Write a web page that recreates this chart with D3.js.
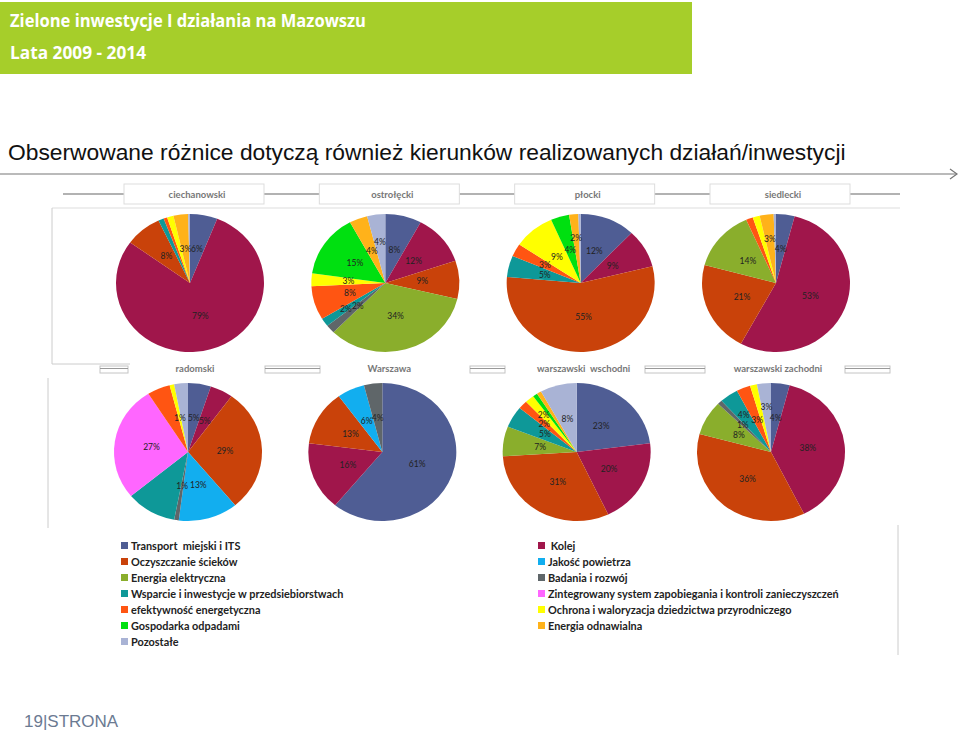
<!DOCTYPE html>
<html>
<head>
<meta charset="utf-8">
<script src="https://cdn.jsdelivr.net/npm/d3@7"></script>
<style>
  body { margin: 0; background: #fff; }
  svg { display: block; }
  text { white-space: pre; }
</style>
</head>
<body>
<svg id="chart" width="960" height="730"></svg>
<script>
// kategorie inwestycji (kolejność jak w legendzie Excela)
const categories = [
  "Transport  miejski i ITS",
  " Kolej",
  "Oczyszczanie ścieków",
  "Jakość powietrza",
  "Energia elektryczna",
  "Badania i rozwój",
  "Wsparcie i inwestycje w przedsiebiorstwach",
  "Zintegrowany system zapobiegania i kontroli zanieczyszczeń",
  "efektywność energetyczna",
  "Ochrona i waloryzacja dziedzictwa przyrodniczego",
  "Gospodarka odpadami",
  "Energia odnawialna",
  "Pozostałe"
];
const colors = [
  "#4f5d94", "#a0164b", "#c9420a", "#12aeef", "#8aae2c", "#5f6669", "#0e9898",
  "#ff66ff", "#ff5512", "#ffff00", "#00e010", "#ffb21a", "#a9b3d5"
];

const topRow = ["ciechanowski", "ostrołęcki", "płocki", "siedlecki"];
const bottomRow = ["radomski", "Warszawa", "warszawski  wschodni", "warszawski zachodni"];

// udziały % wg kategorii
const ciechanowski = [6, 79, 8, 0, 0, 0, 1.2, 0, 0.8, 1.4, 0, 3.2, 0.4];
const ostroleckiVals = [8, 12, 9, 0, 34, 2, 2, 0, 8, 3, 15, 4, 4];
const plocki = [12, 9, 55, 0, 0, 0, 5, 0, 3, 9, 4, 2, 0.5];
const siedlecki = [4, 53, 21, 0, 14, 0, 0, 0, 1.5, 1.5, 0, 3, 0.5];
const radomski = [5, 5, 29, 13, 0, 1, 11, 27, 5, 1, 0, 0, 3];
const warszawa = [61, 16, 13, 6, 0, 4, 0, 0, 0, 0, 0, 0, 0];
const wschodni = [23, 20, 31, 0, 7, 0, 5, 0, 2, 2, 1, 1, 8];
const zachodni = [4, 38, 36, 0, 8, 1, 4, 0, 3, 1.5, 0, 0, 3];

// kategorie bez etykiety na wykresie
const unlabeledCiech = [6, 8, 9, 12];
const unlabeledPlocki = [12];
const unlabeledSiedl = [8, 9, 12];
const unlabeledRadom = [6, 8, 12];
const unlabeledWsch = [10, 11];
const unlabeledZach = [9];

const legendLeft = [0, 2, 4, 6, 8, 10, 12];
const legendRight = [1, 3, 5, 7, 9, 11];

const panels = [
  { name: topRow[0], values: ciechanowski, hide: unlabeledCiech },
  { name: topRow[1], values: ostroleckiVals, hide: [] },
  { name: topRow[2], values: plocki, hide: unlabeledPlocki },
  { name: topRow[3], values: siedlecki, hide: unlabeledSiedl },
  { name: bottomRow[0], values: radomski, hide: unlabeledRadom },
  { name: bottomRow[1], values: warszawa, hide: [] },
  { name: bottomRow[2], values: wschodni, hide: unlabeledWsch },
  { name: bottomRow[3], values: zachodni, hide: unlabeledZach }
];

const svg = d3.select("#chart");

/** NAGŁÓWEK **/
svg.append("rect").attr("x", 0).attr("y", 2).attr("width", 692).attr("height", 72).attr("fill", "#a6ce2a");
svg.append("text").attr("x", 10).attr("y", 27)
  .attr("font-family", "'Open Sans', sans-serif").attr("font-weight", 700).attr("font-size", 17)
  .attr("fill", "#fff").attr("textLength", 356).attr("lengthAdjust", "spacingAndGlyphs")
  .text("Zielone inwestycje I działania na Mazowszu");
svg.append("text").attr("x", 10).attr("y", 59)
  .attr("font-family", "'Open Sans', sans-serif").attr("font-weight", 700).attr("font-size", 17)
  .attr("fill", "#fff").attr("textLength", 136).attr("lengthAdjust", "spacingAndGlyphs")
  .text("Lata 2009 - 2014");

svg.append("text").attr("x", 8).attr("y", 160)
  .attr("font-family", "'Liberation Sans', Arial, sans-serif").attr("font-size", 22.8)
  .attr("fill", "#111")
  .text("Obserwowane różnice dotyczą również kierunków realizowanych działań/inwestycji");

// strzałka
svg.append("line").attr("x1", 0).attr("x2", 957).attr("y1", 174).attr("y2", 174)
  .attr("stroke", "#777").attr("stroke-width", 1.2);
svg.append("path").attr("d", "M950,169 L957,174 L950,179").attr("fill", "none")
  .attr("stroke", "#777").attr("stroke-width", 1.2);

/** RAMKI (zakładki) **/
const frame = svg.append("g").attr("fill", "none");
frame.append("line").attr("x1", 63).attr("x2", 900).attr("y1", 194).attr("y2", 194).attr("stroke", "#999").attr("stroke-width", 1.5);
frame.append("line").attr("x1", 52).attr("x2", 900).attr("y1", 208).attr("y2", 208).attr("stroke", "#ddd");
frame.append("line").attr("x1", 52).attr("x2", 52).attr("y1", 208).attr("y2", 364).attr("stroke", "#ccc");
frame.append("line").attr("x1", 52).attr("x2", 130).attr("y1", 364).attr("y2", 364).attr("stroke", "#ccc");
frame.append("line").attr("x1", 48).attr("x2", 48).attr("y1", 378).attr("y2", 528).attr("stroke", "#ccc");
frame.append("line").attr("x1", 898).attr("x2", 898).attr("y1", 525).attr("y2", 655).attr("stroke", "#ccc");
// podwójne odcinki przy tytułach dolnego rzędu
const tabSegments = [[100, 128], [265, 320], [470, 505], [645, 705], [845, 890]];
tabSegments.forEach(([a, b]) => {
  frame.append("rect").attr("x", a).attr("y", 366).attr("width", b - a).attr("height", 7)
    .attr("stroke", "#c4c4c4").attr("stroke-width", 1);
  frame.append("line").attr("x1", a).attr("x2", b).attr("y1", 368.5).attr("y2", 368.5)
    .attr("stroke", "#999").attr("stroke-width", 1);
});

/** POZYCJE **/
const rx = 74, ry = 69;
const xTop = d3.scalePoint().domain(topRow).range([190, 776]);
const xBottom = d3.scalePoint().domain(bottomRow).range([188, 771]);
const yRow = d3.scalePoint().domain(["top", "bottom"]).range([283, 452]);

const pie = d3.pie().sort(null).value((d) => d.v);
const arc = d3.arc().innerRadius(0).outerRadius(rx);

const labelPos = (d, rf) => {
  const a = (d.startAngle + d.endAngle) / 2;
  return [rf * rx * Math.sin(a), -rf * ry * Math.cos(a)];
};

panels.forEach((p, i) => {
  const row = i < 4 ? "top" : "bottom";
  const cx = row === "top" ? xTop(p.name) : xBottom(p.name);
  const cy = yRow(row);
  const data = p.values.map((v, k) => ({ v, k }));
  const arcs = pie(data);

  // tytuł
  if (row === "top") {
    svg.append("rect").attr("x", cx - 66).attr("y", 184).attr("width", 140).attr("height", 20)
      .attr("fill", "#fff").attr("stroke", "#ddd");
  }
  svg.append("text")
    .attr("x", cx + 7).attr("y", row === "top" ? 194 : 368)
    .attr("text-anchor", "middle").attr("dominant-baseline", "central")
    .attr("font-family", "Lato, sans-serif").attr("font-size", 9.5).attr("font-weight", 700)
    .attr("fill", "#777")
    .text(p.name);

  const g = svg.append("g").attr("transform", `translate(${cx},${cy})`);
  g.append("g").attr("transform", `scale(1,${ry / rx})`)
    .selectAll("path").data(arcs.filter((d) => d.data.v > 0)).join("path")
    .attr("d", arc).attr("fill", (d) => colors[d.data.k]);

  // etykiety: od połowy promienia, odsuwane na zewnątrz przy kolizji
  const labels = arcs.filter((d) => d.data.v > 0 && !p.hide.includes(d.data.k));
  const placed = [];
  labels.forEach((d) => {
    const txt = Math.round(d.data.v) + "%";
    const w = txt.length * 5.3, h = 8.5;
    let rf = 0.5, pos = labelPos(d, rf);
    const hits = (q) => placed.some((o) =>
      Math.abs(o.x - q[0]) < (o.w + w) / 2 && Math.abs(o.y - q[1]) < h);
    while (hits(pos) && rf < 0.82) { rf += 0.05; pos = labelPos(d, rf); }
    d.lx = pos[0]; d.ly = pos[1]; d.txt = txt;
    placed.push({ x: pos[0], y: pos[1], w });
  });
  g.selectAll("text").data(labels)
    .join("text")
    .attr("x", (d) => d.lx)
    .attr("y", (d) => d.ly)
    .attr("text-anchor", "middle").attr("dominant-baseline", "central")
    .attr("font-family", "Lato, sans-serif").attr("font-size", 8.5)
    .attr("fill", "#222")
    .text((d) => d.txt);
});

/** LEGENDA **/
const legendY = d3.scalePoint().domain(d3.range(7)).range([545.5, 641.5]);
const legendCol = [
  { items: legendLeft, x: 121 },
  { items: legendRight, x: 538 }
];
legendCol.forEach((col) => {
  const lg = svg.append("g").selectAll("g").data(col.items).join("g")
    .attr("transform", (d, j) => `translate(${col.x},${legendY(j)})`);
  lg.append("rect").attr("x", 0).attr("y", -3.5).attr("width", 7).attr("height", 7)
    .attr("fill", (d) => colors[d]);
  lg.append("text").attr("x", 10).attr("y", 0).attr("dominant-baseline", "central")
    .attr("font-family", "Lato, sans-serif").attr("font-size", 10.9).attr("font-weight", 700)
    .attr("fill", "#222")
    .text((d) => categories[d]);
});

// stopka
svg.append("text").attr("x", 24).attr("y", 727)
  .attr("font-family", "'Liberation Sans', Arial, sans-serif").attr("font-size", 17)
  .attr("fill", "#6b7a92").text("19|STRONA");
</script>
</body>
</html>
